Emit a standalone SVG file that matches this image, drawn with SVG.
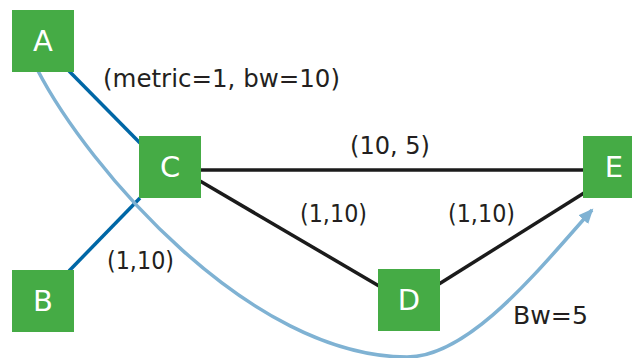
<svg xmlns="http://www.w3.org/2000/svg" width="632" height="358" viewBox="0 0 632 358">
  <style>
    .node rect { fill: #45ab45; }
    .node text { fill: #ffffff; font-family: "DejaVu Sans", "Liberation Sans", sans-serif; font-size: 29px; text-anchor: middle; }
    .lbl { fill: #231f20; font-family: "DejaVu Sans", "Liberation Sans", sans-serif; font-size: 24px; }
    .blue { stroke: #0067a6; stroke-width: 3.5; fill: none; }
    .black { stroke: #1b1b1b; stroke-width: 3.5; fill: none; }
    .path { stroke: #7fb2d3; stroke-width: 3.5; fill: none; }
  </style>
  <defs>
    <marker id="arrow" markerWidth="16" markerHeight="14" refX="13" refY="6.5" orient="auto" markerUnits="userSpaceOnUse">
      <path d="M0,0 L15,6.5 L0,13 z" fill="#7fb2d3"/>
    </marker>
  </defs>
  <rect width="632" height="358" fill="#ffffff"/>

  <g id="connectors">
    <line class="blue" x1="69" y1="71" x2="140" y2="143"/>
    <line class="blue" x1="69" y1="271" x2="140" y2="198"/>
    <line class="black" x1="200" y1="170" x2="584" y2="170"/>
    <line class="black" x1="200" y1="181" x2="379" y2="286"/>
    <line class="black" x1="439" y1="284" x2="584" y2="193"/>
    <path class="path" d="M37,69 C88,168 250,357 407,357 C470,357 540,268 592,210" marker-end="url(#arrow)"/>
  </g>

  <g id="A" class="node"><rect x="12" y="10" width="62" height="62"/><text x="43" y="51">A</text></g>
  <g id="B" class="node"><rect x="12" y="270" width="62" height="62"/><text x="43" y="311">B</text></g>
  <g id="C" class="node"><rect x="139" y="136" width="62" height="62"/><text x="170" y="177">C</text></g>
  <g id="D" class="node"><rect x="378" y="269" width="62" height="62"/><text x="409" y="310">D</text></g>
  <g id="E" class="node"><rect x="583" y="136" width="62" height="62"/><text x="614" y="177">E</text></g>

  <g id="labels">
    <text class="lbl" x="103" y="87" textLength="237" lengthAdjust="spacingAndGlyphs">(metric=1, bw=10)</text>
    <text class="lbl" x="350" y="154" textLength="80" lengthAdjust="spacingAndGlyphs">(10, 5)</text>
    <text class="lbl" x="107" y="269" textLength="67" lengthAdjust="spacingAndGlyphs">(1,10)</text>
    <text class="lbl" x="300" y="222" textLength="67" lengthAdjust="spacingAndGlyphs">(1,10)</text>
    <text class="lbl" x="448" y="222" textLength="67" lengthAdjust="spacingAndGlyphs">(1,10)</text>
    <text class="lbl" x="513" y="324" textLength="75" lengthAdjust="spacingAndGlyphs">Bw=5</text>
  </g>
</svg>
